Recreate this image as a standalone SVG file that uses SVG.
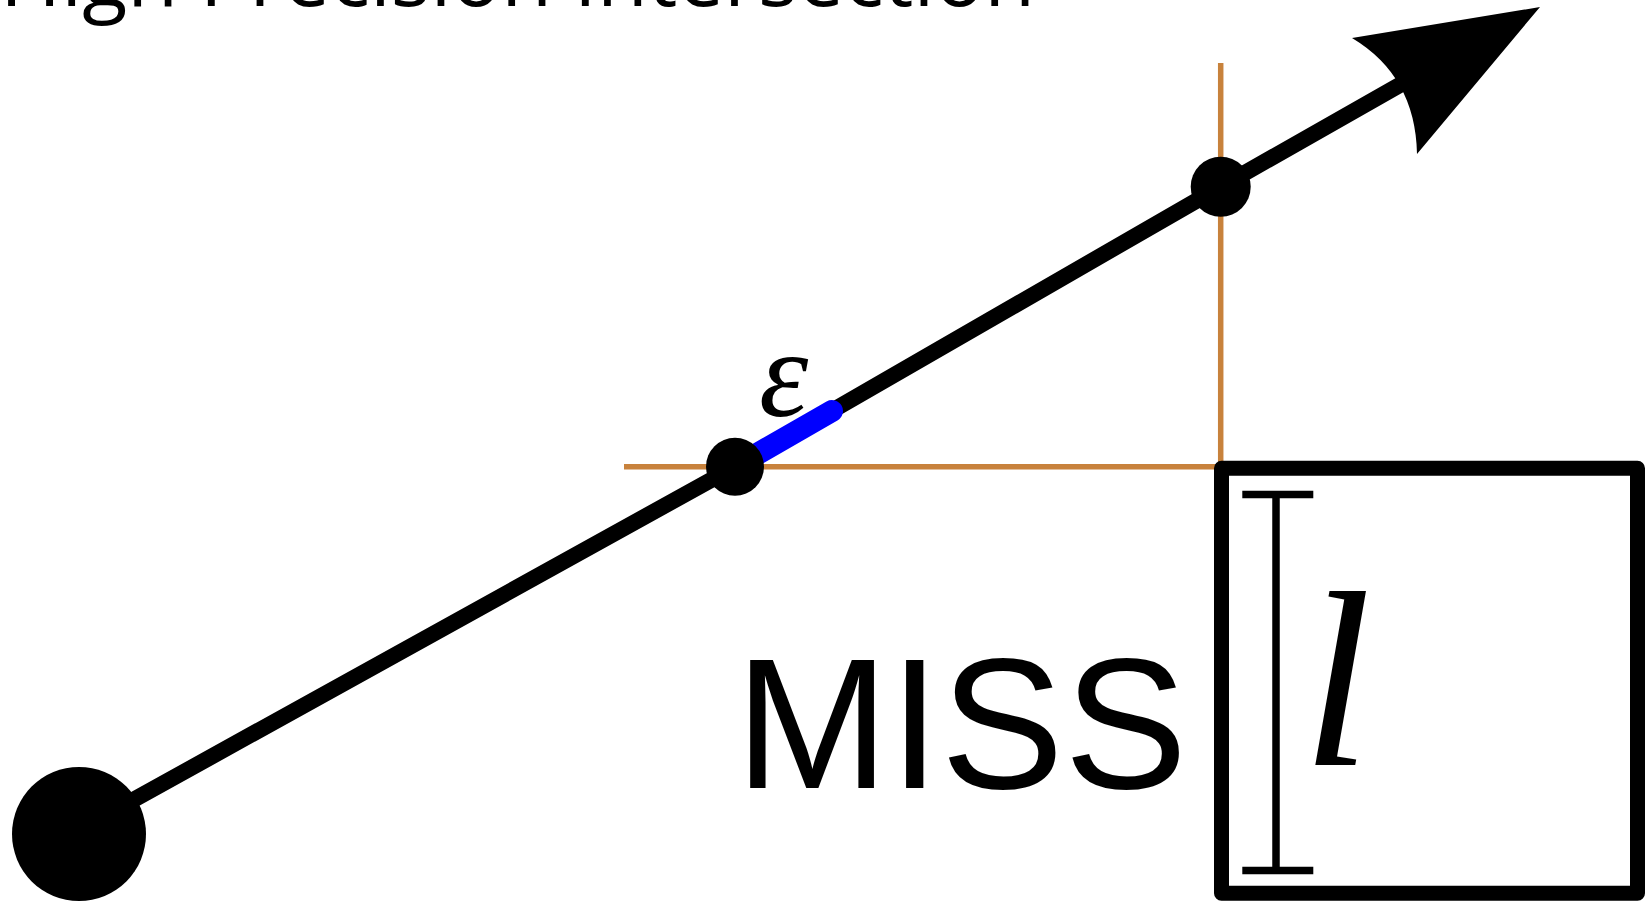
<svg xmlns="http://www.w3.org/2000/svg" width="1651" height="902" viewBox="0 0 1651 902">
  <style>
    .guide { stroke: #c8823c; stroke-width: 5.5; fill: none; }
    .ray { stroke: #000; stroke-width: 16; fill: none; stroke-linecap: round; stroke-linejoin: round; }
    .eps { stroke: #0000ff; stroke-width: 22; stroke-linecap: round; fill: none; }
    .dot { fill: #000; }
    .box { fill: none; stroke: #000; stroke-width: 15; stroke-linejoin: round; }
    .dim { stroke: #000; fill: none; }
    .title { font-family: "Open Sans", "Noto Sans", sans-serif; font-size: 83px; fill: #000; }
    .miss { font-family: "Liberation Sans", Arial, sans-serif; font-size: 185px; fill: #000; }
    .math { font-family: "Liberation Serif", "Times New Roman", serif; font-style: italic; fill: #000; }
  </style>
  <rect width="1651" height="902" fill="#fff"/>
  <g id="title">
    <text class="title" x="0" y="5.5">High Precision Intersection</text>
  </g>
  <g id="guides">
    <line class="guide" x1="624" y1="466.7" x2="1220.7" y2="466.7"/>
    <line class="guide" x1="1220.7" y1="63" x2="1220.7" y2="466.7"/>
  </g>
  <g id="connectors">
    <polyline class="ray" points="79,830 735,466.7 1220.7,186.7 1405,82"/>
    <line class="eps" x1="735" y1="466.7" x2="832" y2="411"/>
    <path id="arrowhead" d="M1540,7 L1352,38 Q1415.5,76 1417,154 Z" fill="#000"/>
  </g>
  <g id="origin">
    <circle class="dot" cx="79" cy="834" r="67"/>
  </g>
  <g id="hit-near">
    <circle class="dot" cx="735" cy="466.7" r="29"/>
  </g>
  <g id="hit-far">
    <circle class="dot" cx="1220.7" cy="186.7" r="30"/>
  </g>
  <g id="epsilon">
    <text class="math" x="759" y="416" font-size="125">ε</text>
  </g>
  <g id="cell">
    <rect class="box" x="1221.5" y="468.3" width="416" height="425"/>
    <line class="dim" x1="1276" y1="494.5" x2="1276" y2="870.5" stroke-width="7.5"/>
    <line class="dim" x1="1242.3" y1="494.5" x2="1313.3" y2="494.5" stroke-width="7.6"/>
    <line class="dim" x1="1242.3" y1="870.5" x2="1313.3" y2="870.5" stroke-width="7.6"/>
    <text class="math" x="1302" y="765" font-size="250">l</text>
  </g>
  <g id="miss-label">
    <text class="miss" x="735" y="787.7">MISS</text>
  </g>
</svg>
